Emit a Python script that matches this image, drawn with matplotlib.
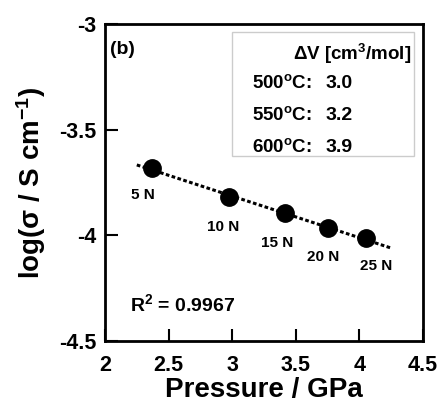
import numpy as np
import matplotlib
matplotlib.use('Agg')
import matplotlib.pyplot as plt

plt.rcParams['font.family'] = ['Liberation Sans', 'DejaVu Sans']
plt.rcParams['font.weight'] = 'bold'
plt.rcParams['mathtext.default'] = 'regular'

# data
pressure = [2.37, 2.975, 3.415, 3.756, 4.05]
log_sigma = [-3.683, -3.82, -3.896, -3.967, -4.014]
loads = ['5 N', '10 N', '15 N', '20 N', '25 N']
temps = ['500', '550', '600']
delta_v = ['3.0', '3.2', '3.9']
r2 = '0.9967'
fit_range = [2.25, 4.25]

# label offsets in pixels (dx, dy) from each point
offsets = [(-9, -27), (-6, -30), (-8, -30), (-5, -29), (10, -28)]

fig = plt.figure(figsize=(4.39, 4.07), dpi=100)
ax = fig.add_axes([105 / 439, 1 - 341 / 407, 318 / 439, 317 / 407])

# linear fit
k, b = np.polyfit(pressure, log_sigma, 1)
xf = np.array(fit_range)
ax.plot(xf, k * xf + b, color='black', lw=2.2, linestyle=(0, (1.2, 0.8)), zorder=2)
ax.plot(pressure, log_sigma, 'o', color='black', ms=12.5, zorder=3)

for x, y, lab, (dx, dy) in zip(pressure, log_sigma, loads, offsets):
    ax.annotate(lab, (x, y), xytext=(dx, dy), textcoords='offset pixels',
                ha='center', va='center', fontsize=11, fontweight='bold')

ax.set_xlim(2, 4.5)
ax.set_ylim(-4.5, -3)
ax.set_xticks([2, 2.5, 3, 3.5, 4, 4.5])
ax.set_xticklabels(['2', '2.5', '3', '3.5', '4', '4.5'])
ax.set_yticks([-4.5, -4, -3.5, -3])
ax.set_yticklabels(['-4.5', '-4', '-3.5', '-3'])
ax.tick_params(direction='in', length=9, width=1.5, labelsize=15.5)
ax.tick_params(axis='x', pad=10)
ax.tick_params(axis='y', pad=6)
for s in ax.spines.values():
    s.set_linewidth(2)

ax.set_xlabel('Pressure / GPa', fontsize=20, fontweight='bold', labelpad=1)
ax.set_ylabel('log(σ / S cm$^{-1}$)', fontsize=20, fontweight='bold', labelpad=8)

ax.text(0.015, 0.905, '(b)', transform=ax.transAxes, fontsize=14, fontweight='bold')
ax.text(0.08, 0.115, 'R$^{2}$ = ' + r2, transform=ax.transAxes, fontsize=14, fontweight='bold', va='center')

# box with activation volumes
box = plt.Rectangle((232 / 439, 1 - 156 / 407), 182 / 439, 124 / 407, transform=fig.transFigure,
                    fill=False, edgecolor='#cccccc', lw=1, zorder=1)
fig.patches.append(box)
fig.text(411 / 439, 1 - 54 / 407, 'ΔV [cm$^{3}$/mol]', ha='right', va='center', fontsize=13.5, fontweight='bold')
for i, (t, v) in enumerate(zip(temps, delta_v)):
    yy = 1 - (83 + i * 32) / 407
    fig.text(252 / 439, yy, t + '$^{o}$C:', ha='left', va='center', fontsize=13.5, fontweight='bold')
    fig.text(326 / 439, yy, v, ha='left', va='center', fontsize=14, fontweight='bold')

fig.savefig('out.png', dpi=100)
